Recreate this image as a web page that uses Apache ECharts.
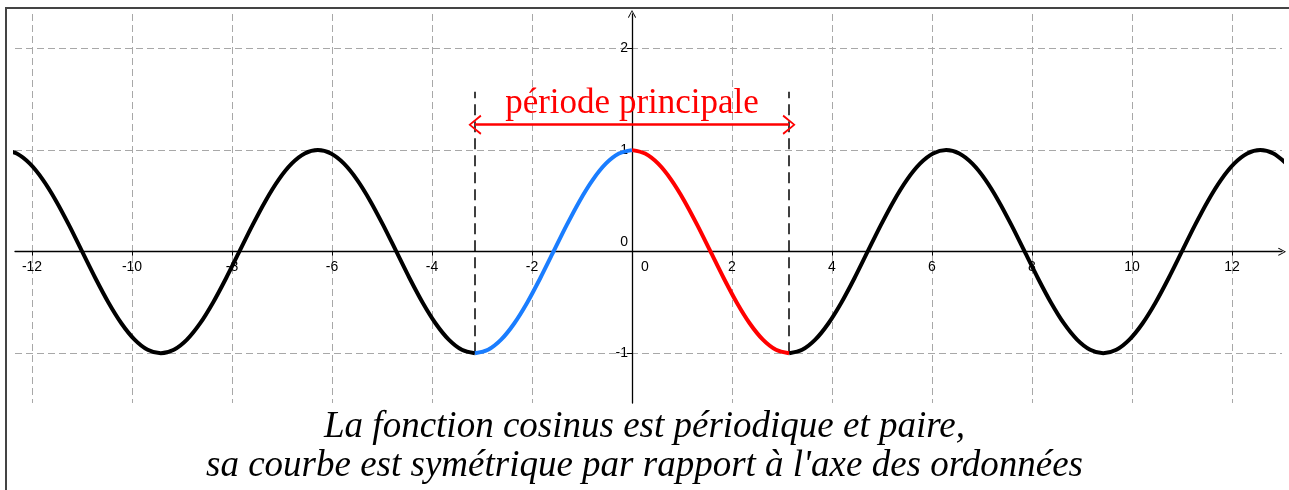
<!DOCTYPE html>
<html>
<head>
<meta charset="utf-8">
<script src="https://cdn.jsdelivr.net/npm/echarts@6/dist/echarts.min.js"></script>
<style>
  html, body { margin: 0; padding: 0; background: #fff; }
  #chart { position: absolute; left: 0; top: 0; width: 1289px; height: 490px; }
  #frame { position: absolute; left: 5px; top: 7px; width: 1290px; height: 490px;
           border-top: 2px solid #444; border-left: 2px solid #444; pointer-events: none; }
</style>
</head>
<body>
<div id="chart"></div>
<div id="frame"></div>
<script>
// tick labels
const xTicks = [-12, -10, -8, -6, -4, -2, 0, 2, 4, 6, 8, 10, 12]
const yTicks = [-1, 0, 1, 2]

// points (x, y)
const blackLeftX = [-12.566, -12.305, -12.043, -11.781, -11.519, -11.257, -10.996, -10.734, -10.472, -10.210,
  -9.948, -9.687, -9.425, -9.163, -8.901, -8.639, -8.378, -8.116, -7.854, -7.592,
  -7.330, -7.069, -6.807, -6.545, -6.283, -6.021, -5.760, -5.498, -5.236, -4.974,
  -4.712, -4.451, -4.189, -3.927, -3.665, -3.403, -3.142]
const blackLeftY = [1, 0.966, 0.866, 0.707, 0.5, 0.259, 0, -0.259, -0.5, -0.707,
  -0.866, -0.966, -1, -0.966, -0.866, -0.707, -0.5, -0.259, 0, 0.259,
  0.5, 0.707, 0.866, 0.966, 1, 0.966, 0.866, 0.707, 0.5, 0.259,
  0, -0.259, -0.5, -0.707, -0.866, -0.966, -1]

const blueX = [-3.142, -2.880, -2.618, -2.356, -2.094, -1.833, -1.571, -1.309, -1.047, -0.785, -0.524, -0.262, 0]
const blueY = [-1, -0.966, -0.866, -0.707, -0.5, -0.259, 0, 0.259, 0.5, 0.707, 0.866, 0.966, 1]

const redX = [0, 0.262, 0.524, 0.785, 1.047, 1.309, 1.571, 1.833, 2.094, 2.356, 2.618, 2.880, 3.142]
const redY = [1, 0.966, 0.866, 0.707, 0.5, 0.259, 0, -0.259, -0.5, -0.707, -0.866, -0.966, -1]

const blackRightX = [3.142, 3.403, 3.665, 3.927, 4.189, 4.451, 4.712, 4.974, 5.236, 5.498,
  5.760, 6.021, 6.283, 6.545, 6.807, 7.069, 7.330, 7.592, 7.854, 8.116,
  8.378, 8.639, 8.901, 9.163, 9.425, 9.687, 9.948, 10.210, 10.472, 10.734,
  10.996, 11.257, 11.519, 11.781, 12.043, 12.305, 12.566, 12.828, 13.090]
const blackRightY = [-1, -0.966, -0.866, -0.707, -0.5, -0.259, 0, 0.259, 0.5, 0.707,
  0.866, 0.966, 1, 0.966, 0.866, 0.707, 0.5, 0.259, 0, -0.259,
  -0.5, -0.707, -0.866, -0.966, -1, -0.966, -0.866, -0.707, -0.5, -0.259,
  0, 0.259, 0.5, 0.707, 0.866, 0.966, 1, 0.966, 0.866]

// annotation: period bounds and arrow height
const periodStart = -3.1416
const periodEnd = 3.1416
const periodArrowY = 1.25
const periodDashTop = 1.575

const zip = (xs, ys) => xs.map((x, i) => [x, ys[i]])

// open arrow head, pointing up
const chevron = 'path://M5,0 L10,9.2 L9.1,10 L5,2 L0.9,10 L0,9.2 Z'

const gridLine = { show: true, lineStyle: { color: '#a8a8a8', type: [7, 4], width: 1 } }

const curve = (data, color) => ({
  type: 'line',
  data: data,
  smooth: 0.3,
  symbol: 'none',
  lineStyle: { color: color, width: 4 },
  z: 5
})

const tickLabel = (extraPad) => ({
  color: '#000',
  fontFamily: 'Liberation Sans',
  fontSize: 14,
  formatter: v => v === 0 ? '{z|0}' : String(v),
  rich: { z: { padding: extraPad, fontFamily: 'Liberation Sans', fontSize: 14, color: '#000' } }
})

const initChart = () => {
  const chart = echarts.init(document.getElementById('chart'))
  chart.setOption({
    animation: false,
    title: {
      text: 'La fonction cosinus est périodique et paire,\nsa courbe est symétrique par rapport à l\'axe des ordonnées',
      left: 'center',
      top: 403,
      textStyle: {
        fontFamily: 'Liberation Serif',
        fontStyle: 'italic',
        fontWeight: 'normal',
        fontSize: 37,
        lineHeight: 39,
        color: '#000'
      }
    },
    grid: { left: 15, right: 7, top: 14, bottom: 87, containLabel: false },
    xAxis: {
      type: 'value',
      min: -12.34,
      max: 13.0,
      offset: -151.3,
      axisLine: {
        onZero: false,
        symbol: ['none', chevron],
        symbolSize: [10, 8],
        lineStyle: { color: '#000', width: 1.3 }
      },
      axisTick: { show: true, customValues: xTicks, length: 4, lineStyle: { color: '#000' } },
      axisLabel: Object.assign(tickLabel([0, 0, 0, 26]), { customValues: xTicks, margin: 8 }),
      splitLine: gridLine
    },
    yAxis: {
      type: 'value',
      min: -1.49,
      max: 2.34,
      offset: -617,
      axisLine: {
        onZero: false,
        symbol: ['none', chevron],
        symbolSize: [10, 8],
        lineStyle: { color: '#000', width: 1.3 }
      },
      axisTick: { show: true, customValues: yTicks, length: 5, lineStyle: { color: '#000' } },
      axisLabel: Object.assign(tickLabel([0, 0, 20, 0]), { customValues: yTicks, margin: 4 }),
      splitLine: gridLine
    },
    series: [
      curve(zip(blackLeftX, blackLeftY), '#000'),
      curve(zip(blackRightX, blackRightY), '#000'),
      curve(zip(redX, redY), '#ff0000'),
      Object.assign(curve(zip(blueX, blueY), '#1a7dff'), {
        markLine: {
          silent: true,
          z: 3,
          data: [
            [
              { coord: [periodStart, -1], symbol: 'none', lineStyle: { color: '#000', width: 1.5, type: [11, 6] }, label: { show: false } },
              { coord: [periodStart, periodDashTop], symbol: 'none' }
            ],
            [
              { coord: [periodEnd, -1], symbol: 'none', lineStyle: { color: '#000', width: 1.5, type: [11, 6] }, label: { show: false } },
              { coord: [periodEnd, periodDashTop], symbol: 'none' }
            ],
            [
              {
                coord: [periodStart, periodArrowY],
                symbol: chevron,
                symbolSize: [20, 13],
                lineStyle: { color: '#ff0000', width: 2.5, type: 'solid' },
                label: {
                  show: true,
                  position: 'middle',
                  formatter: 'période principale',
                  distance: 3,
                  color: '#ff0000',
                  fontFamily: 'Liberation Serif',
                  fontSize: 35
                }
              },
              { coord: [periodEnd, periodArrowY], symbol: chevron, symbolSize: [20, 13] }
            ]
          ]
        }
      })
    ]
  })
}

if (typeof window !== 'undefined') {
  initChart()
}
</script>
</body>
</html>
